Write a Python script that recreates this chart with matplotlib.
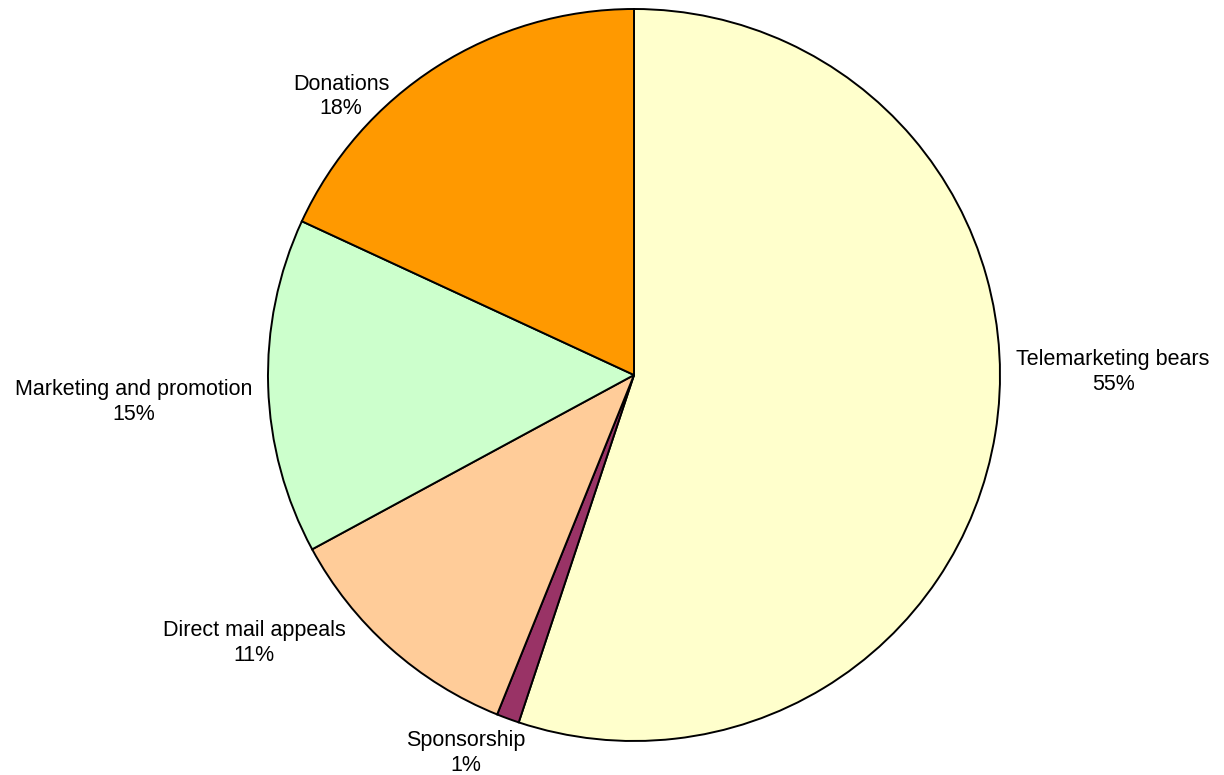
import matplotlib
matplotlib.use('Agg')
import matplotlib.pyplot as plt

plt.rcParams['font.family'] = ['Liberation Sans', 'DejaVu Sans']

# Data (clockwise from 12 o'clock)
categories = ['Telemarketing bears', 'Sponsorship', 'Direct mail appeals',
              'Marketing and promotion', 'Donations']
values = [55.1, 1.0, 11.0, 14.8, 18.1]
colors = ['#FFFFCC', '#993366', '#FFCC99', '#CCFFCC', '#FF9900']

# label centres in pie units (radius = 1)
label_pos = [(1.309, 0.008), (-0.459, -1.033), (-1.038, -0.732),
             (-1.366, -0.074), (-0.800, 0.760)]

fig = plt.figure(figsize=(12.24, 7.75), dpi=100)
ax = fig.add_axes([268/1224, 34/775, 732/1224, 732/775])

wedges, _ = ax.pie(values, colors=colors, startangle=90, counterclock=False,
                   radius=1, wedgeprops=dict(edgecolor='black', linewidth=1.4))
ax.set_xlim(-1, 1)
ax.set_ylim(-1, 1)
ax.set_aspect('equal')

total = float(sum(values))
for cat, v, (x, y) in zip(categories, values, label_pos):
    pct = '%d%%' % round(100 * v / total)
    ax.text(x, y, cat + '\n' + pct, ha='center', va='center', fontsize=15.5,
            linespacing=1.2, clip_on=False)

fig.savefig('out.png', dpi=100)
